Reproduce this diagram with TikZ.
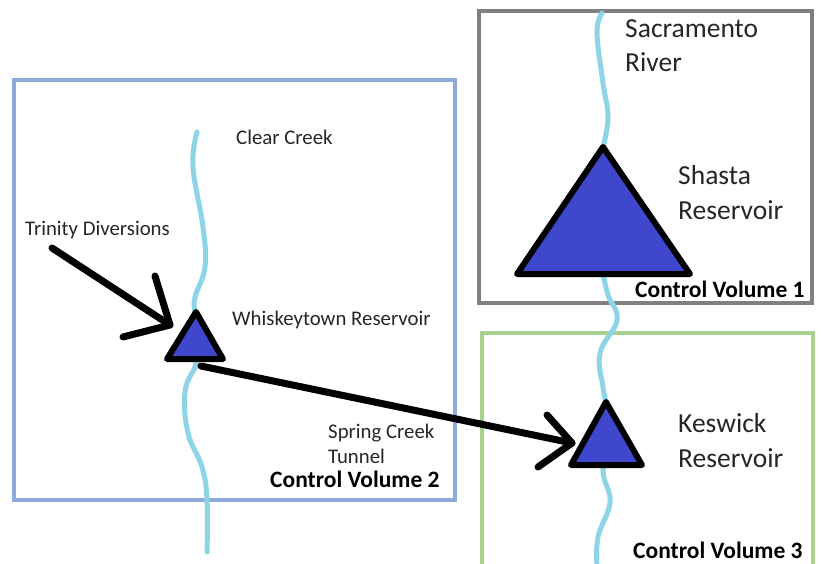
\documentclass[tikz,border=0pt]{standalone}
\usepackage{fontspec}
\setmainfont{Carlito}
\begin{document}
\begin{tikzpicture}[x=1pt,y=-1pt,
  cvblue/.style={draw={rgb,255:red,143;green,170;blue,220},line width=4pt},
  cvgray/.style={draw={rgb,255:red,128;green,128;blue,128},line width=4pt},
  cvgreen/.style={draw={rgb,255:red,169;green,209;blue,142},line width=4pt},
  river/.style={draw={rgb,255:red,140;green,212;blue,230},line width=5pt,line cap=round},
  res/.style={draw=black,fill={rgb,255:red,63;green,72;blue,204},line width=6pt,line join=round},
  flow/.style={draw=black,line width=7pt,line cap=round,line join=round},
  lbl/.style={anchor=base west,inner sep=0pt,text={rgb,255:red,38;green,38;blue,38},font=\fontsize{20.8}{25}\selectfont},
  biglbl/.style={lbl,font=\fontsize{27.5}{33}\selectfont},
  cvlbl/.style={anchor=base west,inner sep=0pt,text=black,font=\fontsize{23.5}{28}\selectfont\bfseries}
]
\fill[white] (0,0) rectangle (824,564);
\useasboundingbox (0,0) rectangle (824,564);

% control volumes
\draw[cvblue] (14,80) rectangle (455,500);
\draw[cvgray] (479,11) rectangle (812,303);
\draw[cvgreen] (482,564) -- (482,333) -- (813,333) -- (813,564);

% rivers
\draw[river] plot[smooth,tension=0.7] coordinates {(197,132) (193,167) (203,227) (205,267) (195,297) (195,312)};
\draw[river] plot[smooth,tension=0.7] coordinates {(196,360) (195,367) (185,392) (188,433) (202,467) (207,500) (207,552)};
\draw[river] plot[smooth,tension=0.7] coordinates {(602,13) (597,33) (603,83) (608,117) (603,147)};
\draw[river] plot[smooth,tension=0.7] coordinates {(603,274) (608,295) (617,320) (600,353) (603,387) (606,402)};
\draw[river] plot[smooth,tension=0.7] coordinates {(603,466) (604,478) (610,503) (598,537) (597,566)};

% reservoirs
\coordinate (shA) at (603,147); \coordinate (shL) at (517,274); \coordinate (shR) at (690,274);
\draw[res] (shA) -- (shL) -- (shR) -- cycle;
\coordinate (wtA) at (196,312); \coordinate (wtL) at (167,359); \coordinate (wtR) at (223,359);
\draw[res] (wtA) -- (wtL) -- (wtR) -- cycle;
\coordinate (kwA) at (606,402); \coordinate (kwL) at (571,465); \coordinate (kwR) at (642,465);
\draw[res] (kwA) -- (kwL) -- (kwR) -- cycle;

% flows
\coordinate (trinStart) at (52,248);
\coordinate (trinTip) at (170,325);
\draw[flow] (trinStart) -- (trinTip);
\draw[flow] (155,276) -- (trinTip) -- (123,337);
\coordinate (scStart) at (201,366);
\coordinate (scTip) at (572,443);
\draw[flow] (scStart) -- (scTip);
\draw[flow] (547,415) -- (scTip) -- (538,467);

% labels
\node[biglbl] (sac1) at (625,38) {Sacramento};
\node[biglbl] (sac2) at (625,72) {River};
\node[biglbl] (sh1) at (678,185) {Shasta};
\node[biglbl] (sh2) at (678,219) {Reservoir};
\node[cvlbl] (cv1) at (635,297) {Control Volume 1};
\node[biglbl] (kw1) at (678,432) {Keswick};
\node[biglbl] (kw2) at (678,467) {Reservoir};
\node[cvlbl] (cv3) at (633,558) {Control Volume 3};
\node[lbl] (cc) at (236,145) {Clear Creek};
\node[lbl] (td) at (25,235) {Trinity Diversions};
\node[lbl] (wt) at (232,325) {Whiskeytown Reservoir};
\node[lbl] (sc1) at (328,438) {Spring Creek};
\node[lbl] (sc2) at (328,463) {Tunnel};
\node[cvlbl] (cv2) at (270,487) {Control Volume 2};
\end{tikzpicture}
\end{document}
